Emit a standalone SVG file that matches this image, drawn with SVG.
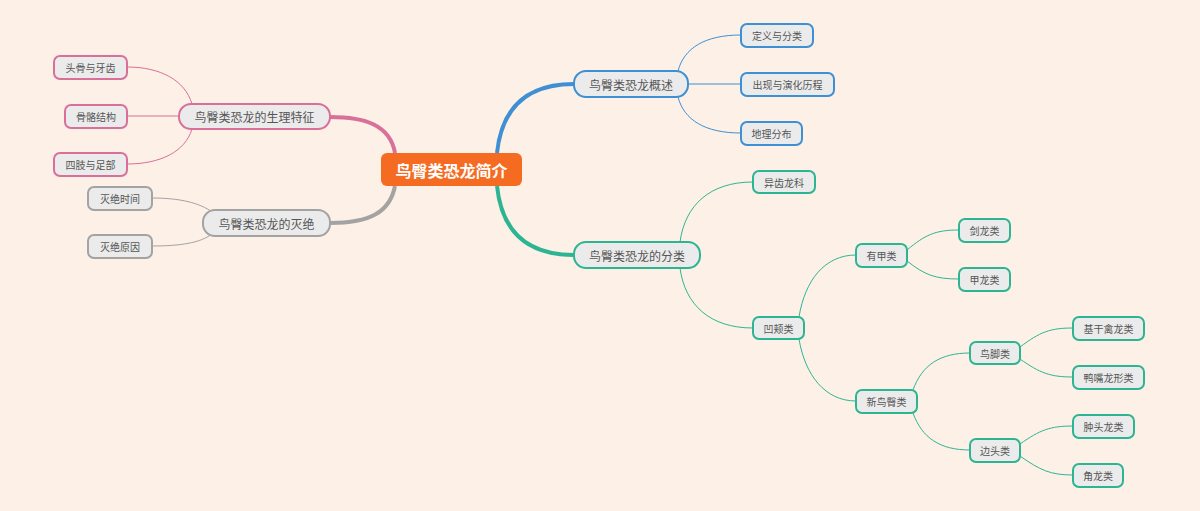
<svg xmlns="http://www.w3.org/2000/svg" width="1200" height="511" viewBox="0 0 1200 511">
<style>
text{font-family:"Noto Sans CJK SC","Noto Sans",sans-serif;fill:#555;text-anchor:middle;dominant-baseline:central}
.n rect{fill:#ebebeb;stroke-width:2}
.l1 text{font-size:12px}
.l2 text{font-size:10px}
.p rect{stroke:#d8709a}.b rect{stroke:#3e8fd3}.g rect{stroke:#a3a3a3}.t rect{stroke:#2db593}
.c path{fill:none}
</style>
<rect width="1200" height="511" fill="#fdf0e6"/>
<g class="c">
<path d="M395,153 C390,125 365,117 330,117" stroke="#d8709a" stroke-width="4"/>
<path d="M395,186 C390,212 370,223 330,223" stroke="#a3a3a3" stroke-width="4"/>
<path d="M497,153 C502,105 530,84 574,84" stroke="#3e8fd3" stroke-width="4"/>
<path d="M497,186 C502,234 530,255 574,255" stroke="#2db593" stroke-width="4"/>
<g stroke="#d8709a" stroke-width="1"><path d="M192,104 C185,80 160,67 127,67"/><path d="M179,116 H127"/><path d="M192,129 C185,152 160,164 127,164"/></g>
<g stroke="#a3a3a3" stroke-width="1"><path d="M212,212 C200,203 180,198 152,198"/><path d="M212,234 C200,243 180,246 152,246"/></g>
<g stroke="#3e8fd3" stroke-width="1"><path d="M678,71 C684,48 705,35 741,35"/><path d="M688,84 H741"/><path d="M678,97 C684,120 705,133 741,133"/></g>
<g stroke="#2db593" stroke-width="1">
<path d="M680,242 C685,205 710,182 753,182"/><path d="M680,268 C685,305 710,328 753,328"/>
<path d="M799,317 C805,280 825,255 856,255"/><path d="M799,339 C805,375 825,401 856,401"/>
<path d="M907,250 C925,235 935,230 959,230"/><path d="M907,261 C925,275 935,279 959,279"/>
<path d="M913,390 C922,365 940,353 970,353"/><path d="M913,413 C922,438 940,450 970,450"/>
<path d="M1020,347 C1040,332 1050,328 1073,328"/><path d="M1020,359 C1040,373 1050,377 1073,377"/>
<path d="M1020,444 C1040,430 1050,426 1073,426"/><path d="M1020,456 C1040,470 1050,475 1073,475"/>
</g>
</g>
<g id="root"><rect x="381" y="153" width="141" height="33" rx="6" fill="#f56b22"/><text x="451.5" y="169.5" style="fill:#fff;font-size:16px;font-weight:bold">鸟臀类恐龙简介</text></g>
<g id="n-sl" class="n l1 p"><rect x="179" y="104" width="151" height="25" rx="12"/><text x="254.5" y="116.5">鸟臀类恐龙的生理特征</text></g>
<g id="n-tg" class="n l2 p"><rect x="54" y="56" width="73" height="23" rx="6"/><text x="90.5" y="67.5">头骨与牙齿</text></g>
<g id="n-gg" class="n l2 p"><rect x="65" y="105" width="62" height="23" rx="6"/><text x="96" y="116.5">骨骼结构</text></g>
<g id="n-sz" class="n l2 p"><rect x="54" y="153" width="73" height="23" rx="6"/><text x="90.5" y="164.5">四肢与足部</text></g>
<g id="n-mj" class="n l1 g"><rect x="203" y="210" width="127" height="26" rx="12"/><text x="266.5" y="223">鸟臀类恐龙的灭绝</text></g>
<g id="n-sj" class="n l2 g"><rect x="88" y="187" width="64" height="23" rx="6"/><text x="120" y="198.5">灭绝时间</text></g>
<g id="n-yy" class="n l2 g"><rect x="88" y="235" width="64" height="23" rx="6"/><text x="120" y="246.5">灭绝原因</text></g>
<g id="n-gs" class="n l1 b"><rect x="574" y="71" width="114" height="26" rx="12"/><text x="631" y="84">鸟臀类恐龙概述</text></g>
<g id="n-dy" class="n l2 b"><rect x="741" y="24" width="72" height="23" rx="6"/><text x="777" y="35.5">定义与分类</text></g>
<g id="n-cx" class="n l2 b"><rect x="741" y="73" width="93" height="23" rx="6"/><text x="787.5" y="84.5">出现与演化历程</text></g>
<g id="n-dl" class="n l2 b"><rect x="741" y="122" width="61" height="23" rx="6"/><text x="771.5" y="133.5">地理分布</text></g>
<g id="n-fl" class="n l1 t"><rect x="574" y="242" width="126" height="26" rx="12"/><text x="637" y="255">鸟臀类恐龙的分类</text></g>
<g id="n-yc" class="n l2 t"><rect x="753" y="171" width="62" height="22" rx="6"/><text x="784" y="182">异齿龙科</text></g>
<g id="n-aj" class="n l2 t"><rect x="753" y="317" width="51" height="22" rx="6"/><text x="778.5" y="328">凹颊类</text></g>
<g id="n-yj" class="n l2 t"><rect x="856" y="244" width="51" height="23" rx="6"/><text x="881.5" y="255.5">有甲类</text></g>
<g id="n-jl" class="n l2 t"><rect x="959" y="219" width="51" height="23" rx="6"/><text x="984.5" y="230.5">剑龙类</text></g>
<g id="n-jl2" class="n l2 t"><rect x="959" y="268" width="51" height="23" rx="6"/><text x="984.5" y="279.5">甲龙类</text></g>
<g id="n-xn" class="n l2 t"><rect x="856" y="390" width="61" height="23" rx="6"/><text x="886.5" y="401.5">新鸟臀类</text></g>
<g id="n-nj" class="n l2 t"><rect x="970" y="342" width="50" height="22" rx="6"/><text x="995" y="353">鸟脚类</text></g>
<g id="n-jg" class="n l2 t"><rect x="1073" y="317" width="71" height="23" rx="6"/><text x="1108.5" y="328.5">基干禽龙类</text></g>
<g id="n-yz" class="n l2 t"><rect x="1073" y="366" width="71" height="23" rx="6"/><text x="1108.5" y="377.5">鸭嘴龙形类</text></g>
<g id="n-bt" class="n l2 t"><rect x="970" y="439" width="50" height="23" rx="6"/><text x="995" y="450.5">边头类</text></g>
<g id="n-zt" class="n l2 t"><rect x="1073" y="415" width="61" height="23" rx="6"/><text x="1103.5" y="426.5">肿头龙类</text></g>
<g id="n-jl3" class="n l2 t"><rect x="1073" y="464" width="50" height="23" rx="6"/><text x="1098" y="475.5">角龙类</text></g>
</svg>
